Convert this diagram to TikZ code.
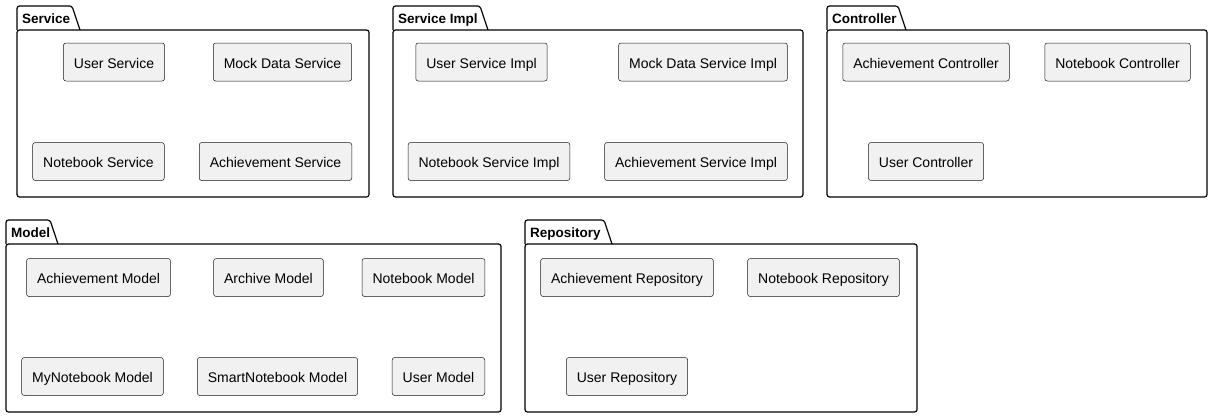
\documentclass[tikz,border=0pt]{standalone}
\usepackage{fontspec}
\setmainfont{Liberation Sans}
\definecolor{compfill}{HTML}{F1F1F1}
\definecolor{compline}{HTML}{181818}

\begin{document}
\begin{tikzpicture}
[x=1pt,y=-1pt,
 comp/.style={draw=compline,fill=compfill,rounded corners=2.5pt,line width=0.5pt,inner xsep=10.5pt,inner ysep=0pt,minimum height=38pt,text height=12pt,text depth=0pt,font=\fontsize{14}{16}\selectfont},
 pkg/.style={draw=black,line width=1.2pt,rounded corners=2.5pt},
 pkgtitle/.style={anchor=west,inner sep=0pt,text height=10pt,text depth=0pt,font=\bfseries\fontsize{13.5}{16}\selectfont}]

% the page
\useasboundingbox (0,0) rectangle (1212,418);

% the packages
\foreach \xa/\ya/\xb/\yc/\xt/\name/\title in {
  17/30/369/197/72/service/Service,
  393/30/803/197/480/serviceimpl/Service Impl,
  827/30/1207/197/898/controller/Controller,
  6/244/501/412/50/model/Model,
  525/244/917/412/604/repository/Repository}
{
  \draw[pkg] (\xa,\ya) -- (\xa,\ya-24) -- (\xt,\ya-24) -- (\xt+8,\ya);
  \draw[pkg] (\xa,\ya) rectangle (\xb,\yc);
  \node[pkgtitle] (\name) at (\xa+5,\ya-12) {\title};
}

% Service
\node[comp] (userservice) at (114,62) {User Service};
\node[comp] (mockdataservice) at (282.5,62) {Mock Data Service};
\node[comp] (notebookservice) at (98.5,161.5) {Notebook Service};
\node[comp] (achievementservice) at (275.5,161.5) {Achievement Service};

% Service Impl
\node[comp] (userserviceimpl) at (481.5,62) {User Service Impl};
\node[comp] (mockdataserviceimpl) at (703,62) {Mock Data Service Impl};
\node[comp] (notebookserviceimpl) at (489,161.5) {Notebook Service Impl};
\node[comp] (achievementserviceimpl) at (696,161.5) {Achievement Service Impl};

% Controller
\node[comp] (achievementcontroller) at (926,62) {Achievement Controller};
\node[comp] (notebookcontroller) at (1117.5,62) {Notebook Controller};
\node[comp] (usercontroller) at (926,161.5) {User Controller};

% Model
\node[comp] (achievementmodel) at (98.5,277.5) {Achievement Model};
\node[comp] (archivemodel) at (268.5,277.5) {Archive Model};
\node[comp] (notebookmodel) at (423.5,277.5) {Notebook Model};
\node[comp] (mynotebookmodel) at (92.5,376.5) {MyNotebook Model};
\node[comp] (smartnotebookmodel) at (277.5,376.5) {SmartNotebook Model};
\node[comp] (usermodel) at (438.5,376.5) {User Model};

% Repository
\node[comp] (achievementrepository) at (627,277.5) {Achievement Repository};
\node[comp] (notebookrepository) at (823.5,277.5) {Notebook Repository};
\node[comp] (userrepository) at (627,376.5) {User Repository};

\end{tikzpicture}
\end{document}
